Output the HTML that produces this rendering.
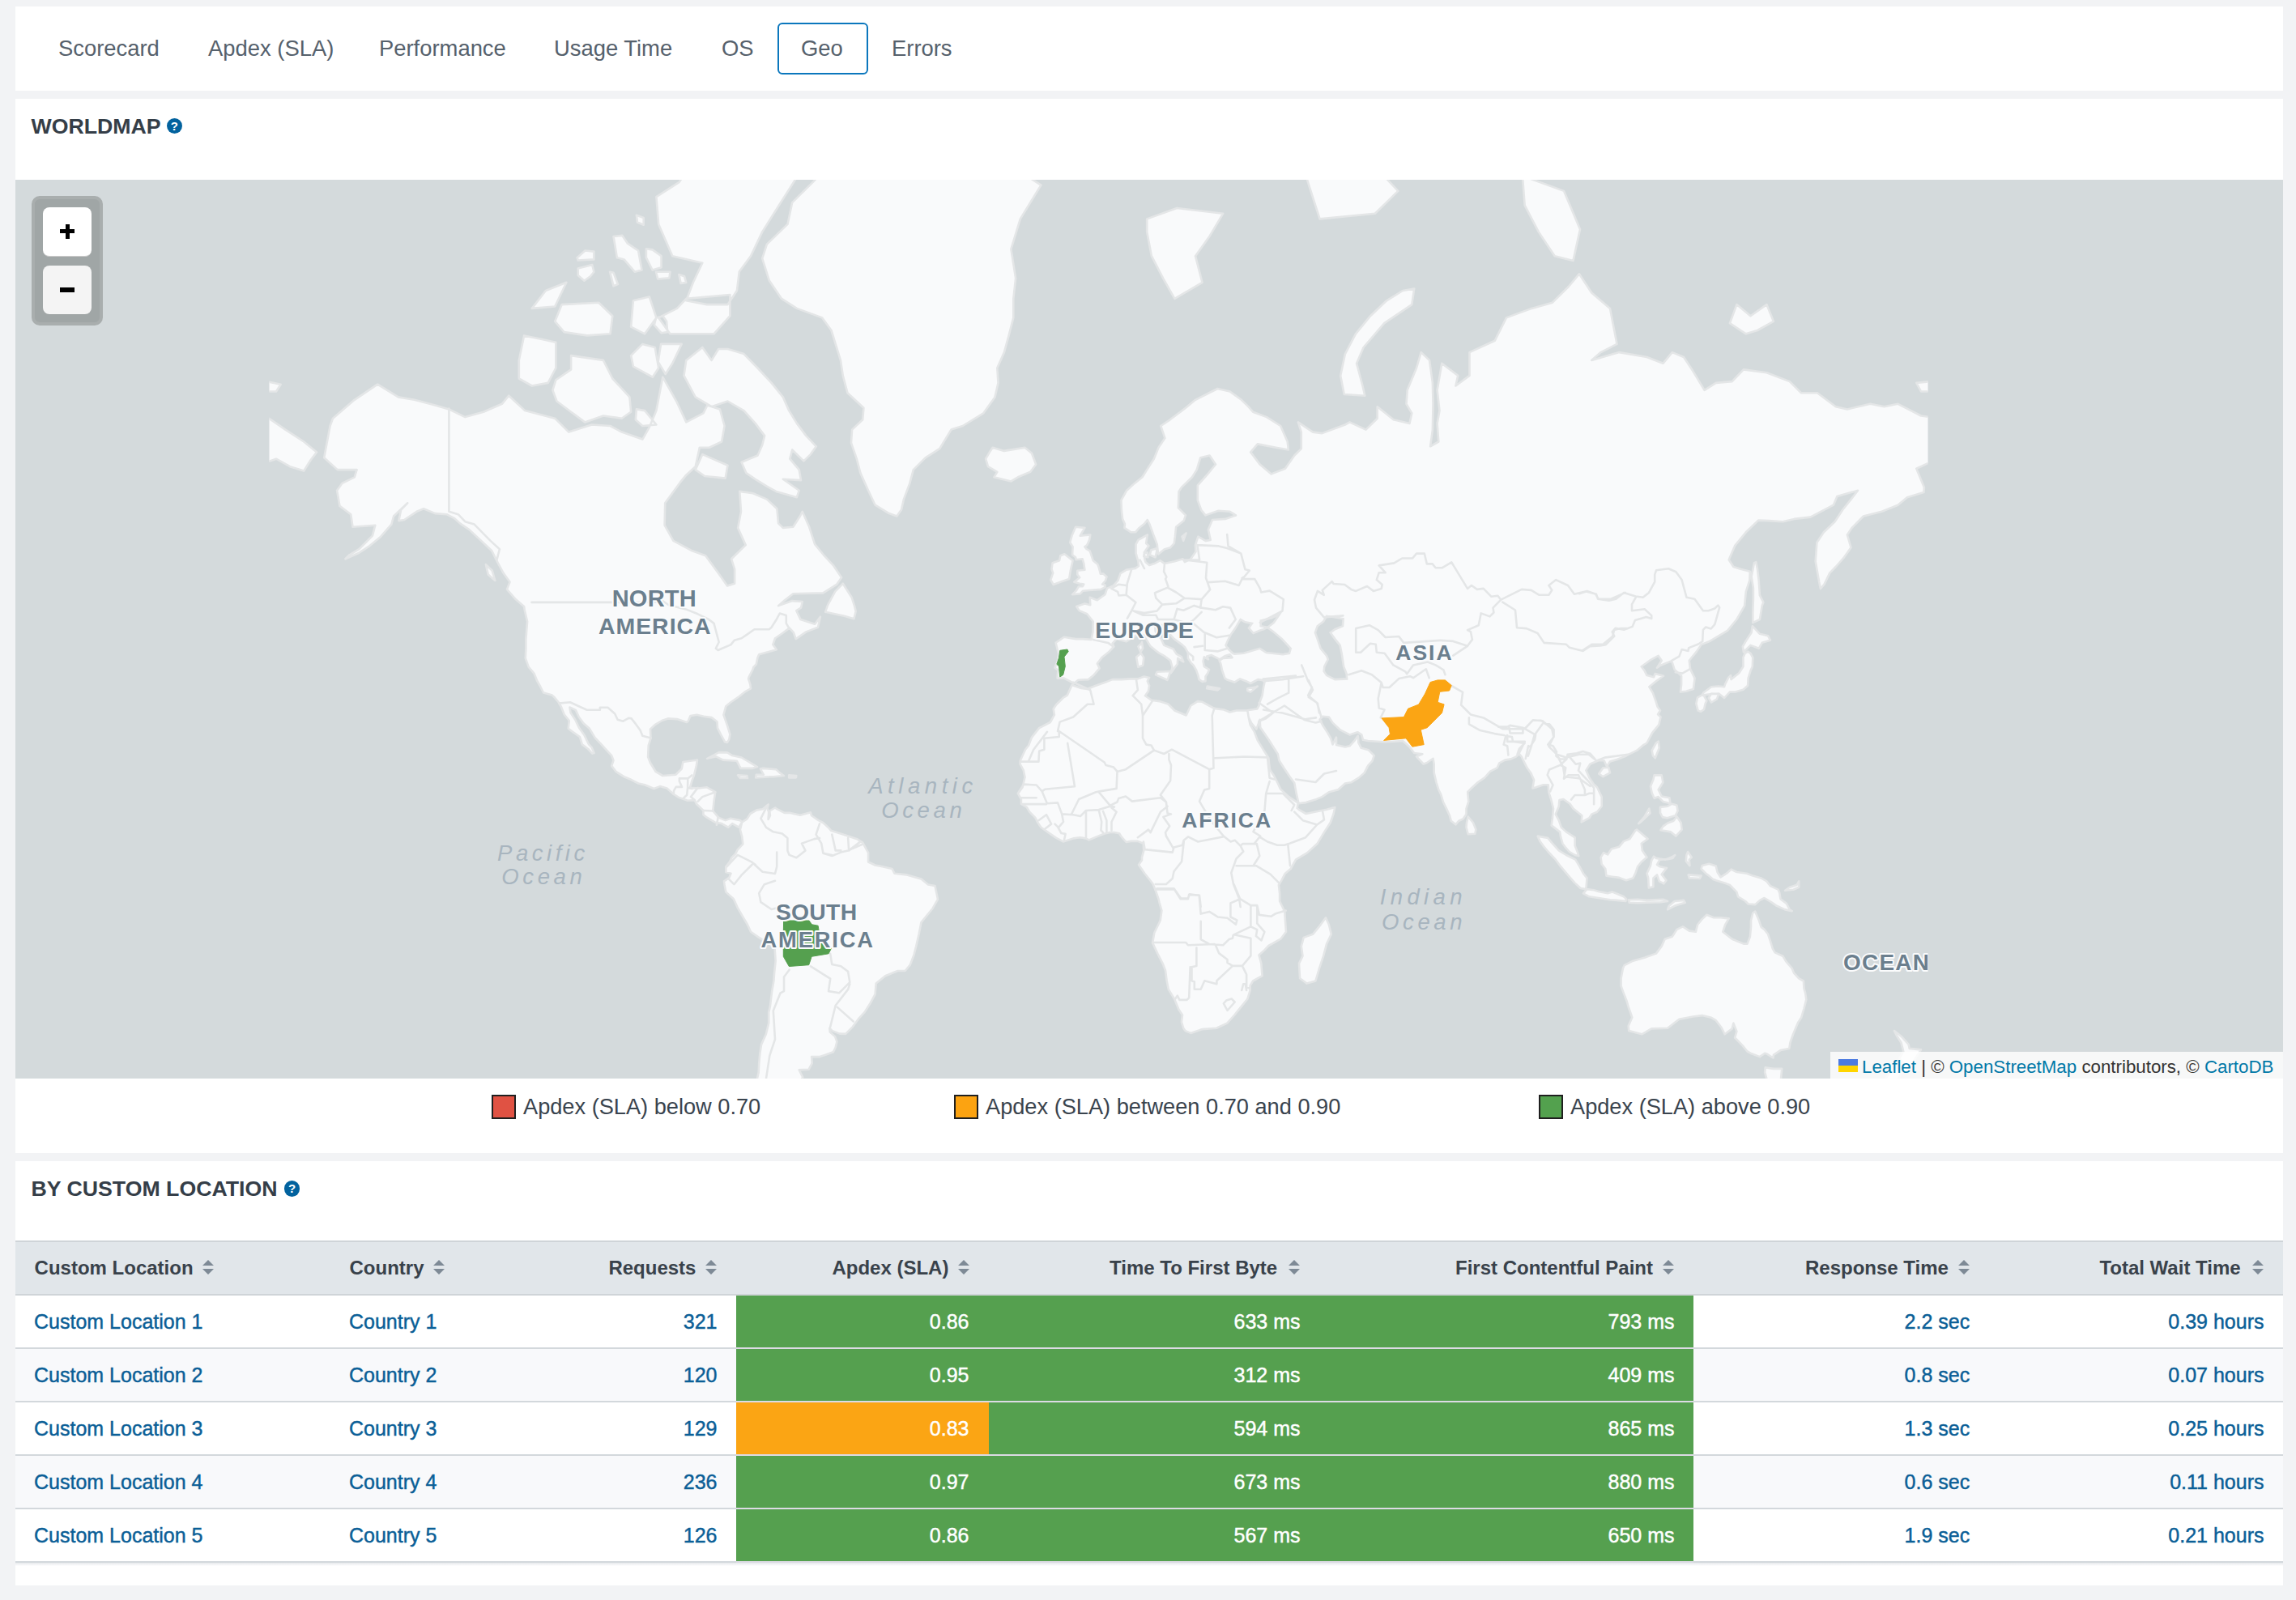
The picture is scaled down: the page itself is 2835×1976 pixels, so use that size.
<!DOCTYPE html>
<html><head><meta charset="utf-8">
<style>
*{box-sizing:border-box}
html,body{margin:0;padding:0}
body{width:2835px;height:1976px;background:#f2f3f5;position:relative;overflow:hidden;font-family:"Liberation Sans",sans-serif}
.abs{position:absolute}
.card{position:absolute;left:19px;width:2800px;background:#fff}
.tab{position:absolute;top:0;font-size:27.4px;color:#56616c;line-height:1;white-space:nowrap}
.title{position:absolute;font-weight:bold;font-size:26.7px;color:#353e48;line-height:1;white-space:nowrap}
.help{position:absolute;width:19.6px;height:19.6px;border-radius:50%;background:#02629e;color:#fff;font-weight:bold;font-size:15px;line-height:19.6px;text-align:center}
.leg{position:absolute;top:1352px;width:30px;height:30px;border:2px solid #1f1f1f}
.legt{position:absolute;font-size:27.2px;color:#3a444e;line-height:1;white-space:nowrap}
.th{position:absolute;font-weight:bold;font-size:24px;color:#39424b;line-height:1;white-space:nowrap}
.td{position:absolute;font-size:25px;color:#0b5f97;line-height:1;white-space:nowrap;-webkit-text-stroke:0.45px #0b5f97}
.tdw{position:absolute;font-size:25px;color:#fff;line-height:1;white-space:nowrap;-webkit-text-stroke:0.45px #fff}
.sort{position:absolute;width:14px;height:18px}
.lbl{position:absolute;font-weight:bold;color:#6b7f8d;font-size:26px;letter-spacing:2px;line-height:1;white-space:nowrap;text-align:center;text-shadow:0 0 3px #fff,0 0 3px #fff}
.ocean{position:absolute;font-style:italic;color:#a4b1ba;font-size:27px;letter-spacing:2.5px;line-height:1;white-space:nowrap;text-align:center}
</style></head><body>
<!-- tabs card -->
<div class="card" style="top:8px;height:104px"></div>
<div class="abs" style="left:960px;top:28px;width:112px;height:63.5px;border:2.5px solid #0b77bd;border-radius:6px"></div>
<div class="tab" style="left:72px;top:46.3px">Scorecard</div>
<div class="tab" style="left:257px;top:46.3px">Apdex (SLA)</div>
<div class="tab" style="left:468px;top:46.3px">Performance</div>
<div class="tab" style="left:684px;top:46.3px">Usage Time</div>
<div class="tab" style="left:891px;top:46.3px">OS</div>
<div class="tab" style="left:989px;top:46.3px">Geo</div>
<div class="tab" style="left:1101px;top:46.3px">Errors</div>

<!-- worldmap card -->
<div class="card" style="top:122px;height:1301.5px"></div>
<div class="title" style="left:38.5px;top:142.5px">WORLDMAP</div>
<div class="help" style="left:205.6px;top:145.6px">?</div>
<div class="abs" style="left:19px;top:222px;width:2800px;height:1110px;overflow:hidden">
<svg width="2800" height="1110" viewBox="19 222 2800 1110" style="position:absolute;left:0;top:0">
<defs><clipPath id="wc"><rect x="332.5" y="0" width="2048" height="2000"/></clipPath></defs>
<rect x="19" y="222" width="2800" height="1110" fill="#d4dadc"/>
<g clip-path="url(#wc)">
<path d="M400.2,565.3L407.6,526.0L411.0,516.7L437.7,493.8L466.2,474.7L491.8,490.4L511.7,493.8L537.3,500.5L554.4,505.4L574.3,515.1L597.0,508.7L619.8,498.8L628.3,488.7L648.2,507.1L685.2,516.7L702.3,533.6L730.7,524.5L753.5,526.0L767.7,533.6L793.3,542.6L801.8,527.6L810.4,507.1L818.3,465.7L836.0,497.2L847.3,521.4L868.4,510.3L873.5,500.5L888.9,505.4L894.6,526.0L891.1,545.5L875.8,552.7L863.8,552.7L858.7,576.2L847.3,586.7L839.9,595.7L821.2,621.3L820.6,648.7L831.4,667.9L854.7,680.3L871.2,686.3L888.9,710.5L898.0,723.4L907.1,720.7L907.1,702.9L903.1,690.3L920.7,673.1L911.1,651.9L915.0,631.8L913.3,606.9L929.8,609.3L946.9,616.6L959.4,628.3L961.1,646.4L966.8,651.9L979.3,650.8L987.9,637.5L990.7,631.8L999.2,650.8L1006.1,672.1L1016.9,685.3L1028.8,698.1L1039.1,713.3L1033.4,721.6L1016.3,732.4L979.3,733.3L967.9,742.1L961.1,748.1L978.2,742.1L990.7,743.0L989.0,750.7L983.3,754.1L988.4,765.0L1006.1,770.7L1012.9,761.7L1010.0,774.8L995.3,780.4L982.7,789.1L979.9,781.2L974.8,775.6L965.1,782.8L957.1,788.3L954.3,796.1L958.8,802.3L950.9,804.6L937.2,808.3L935.5,812.1L933.8,820.3L930.4,823.9L929.5,826.9L924.7,836.2L924.1,838.4L926.4,845.4L927.0,850.3L920.7,853.8L912.8,860.0L902.0,867.5L896.3,872.2L893.4,882.8L898.0,895.9L901.4,906.8L900.3,913.1L898.0,916.9L895.1,916.3L890.6,908.1L886.0,899.1L885.5,891.3L878.6,886.1L869.0,884.8L860.4,882.8L852.5,884.1L849.6,890.7L847.9,892.0L836.0,888.1L824.6,887.4L817.2,890.0L808.7,895.2L803.0,900.4L803.5,911.9L800.7,920.7L800.1,934.9L803.0,942.3L809.8,953.2L818.3,958.0L834.3,956.8L841.7,949.5L843.4,941.0L855.9,939.2L861.0,938.6L859.9,945.3L857.0,957.4L854.7,963.4L851.9,972.9L862.1,973.5L872.9,972.3L883.2,978.2L881.5,989.9L880.3,1001.5L887.2,1009.6L895.7,1013.1L902.0,1010.8L913.9,1013.1L916.2,1015.4L912.2,1021.7L904.2,1017.1L899.1,1021.7L891.1,1017.1L882.6,1015.4L872.9,1009.6L868.4,1006.2L868.4,1001.0L859.9,992.8L857.6,988.1L849.1,988.7L837.7,984.6L831.4,980.5L823.5,973.5L814.9,971.1L807.5,974.0L796.1,969.3L788.2,967.5L779.1,962.8L770.5,959.2L760.9,953.2L755.2,945.9L757.5,939.2L755.2,933.1L751.2,928.8L742.1,918.8L734.7,911.2L727.9,899.8L720.5,893.3L714.8,885.5L710.8,876.9L703.4,873.5L704.6,880.2L710.2,888.7L714.8,898.5L721.6,908.1L726.7,918.8L730.7,923.2L733.6,930.0L731.3,930.6L726.2,925.0L718.8,919.4L715.9,910.0L706.8,903.6L701.7,899.8L702.8,890.0L696.6,882.2L693.2,873.5L689.8,867.5L684.1,860.7L681.8,858.6L671.0,855.5L667.0,847.5L663.0,840.5L659.6,831.9L652.8,823.9L648.8,812.9L649.4,800.8L649.4,789.1L651.1,767.5L647.7,753.3L647.1,749.0L636.9,740.3L626.0,727.9L629.5,718.8L621.5,707.6L614.7,695.2L607.3,680.3L594.2,667.9L579.4,654.1L568.0,646.4L560.6,639.8L551.5,635.2L537.3,634.1L523.1,628.3L514.5,631.8L499.2,642.0L492.4,643.1L495.2,629.5L503.2,621.3L486.1,637.5L483.3,647.6L470.2,662.7L456.5,674.1L442.3,683.3L426.4,690.3L431.5,685.3L443.4,678.2L459.9,661.6L463.3,648.7L435.5,650.8L433.2,635.2L419.5,624.9L416.1,605.7L422.4,596.9L437.7,589.3L440.6,580.1L416.7,580.1L400.2,565.3ZM916.2,1015.4L922.4,1011.4L926.4,1005.0L934.4,1000.4L941.8,999.2L948.6,993.4L947.5,998.1L949.2,1002.7L948.6,1011.9L950.9,1007.3L950.3,1001.5L957.1,997.5L959.4,999.2L968.5,1003.9L975.9,1003.9L987.9,1006.7L1000.9,1003.3L1002.1,1007.3L1010.6,1013.1L1016.3,1016.0L1023.7,1022.9L1026.0,1025.7L1042.5,1030.9L1049.3,1033.2L1059.0,1036.6L1065.2,1040.6L1072.1,1053.1L1072.1,1064.5L1080.6,1068.5L1089.7,1070.2L1101.6,1073.0L1104.5,1078.7L1119.8,1080.4L1137.5,1085.6L1146.0,1092.4L1154.5,1094.1L1158.0,1110.7L1151.7,1121.7L1137.5,1139.1L1134.6,1153.8L1131.2,1168.6L1128.4,1179.5L1123.8,1191.6L1117.6,1199.0L1108.5,1199.0L1093.1,1205.2L1081.7,1214.6L1080.6,1228.0L1073.8,1240.3L1067.5,1250.1L1060.1,1258.2L1052.7,1268.3L1044.2,1276.9L1036.8,1276.6L1027.7,1273.1L1024.3,1269.7L1024.8,1274.5L1031.1,1280.1L1033.4,1286.4L1031.7,1293.5L1028.8,1299.3L1012.3,1305.1L1002.1,1305.1L1002.7,1313.2L998.7,1320.7L986.7,1321.4L991.3,1330.5L989.6,1332.9L985.0,1339.9L935.5,1343.8L935.0,1332.1L936.7,1324.4L937.2,1313.2L938.4,1300.7L940.1,1289.9L945.8,1277.3L949.2,1263.6L949.2,1250.1L950.9,1242.9L953.2,1224.1L955.4,1211.5L956.0,1202.7L957.7,1186.7L956.6,1171.6L950.3,1165.6L937.2,1157.9L927.0,1150.8L923.0,1142.0L917.9,1133.3L911.1,1121.7L905.9,1110.2L896.3,1101.6L894.6,1093.0L894.0,1088.4L900.3,1083.9L902.5,1078.7L896.3,1077.0L896.3,1070.2L900.8,1064.5L903.7,1058.8L908.2,1054.3L910.5,1049.7L917.3,1042.3L916.2,1033.2L913.9,1024.6L916.2,1015.4ZM941.2,319.1L949.7,346.2L965.1,368.9L983.9,380.9L1015.2,392.4L1026.5,408.0L1037.9,444.9L1040.8,463.9L1046.5,485.3L1066.4,503.8L1065.2,518.3L1052.1,530.6L1051.0,546.9L1057.8,566.7L1062.4,584.1L1072.1,605.7L1080.6,623.7L1097.7,634.1L1107.3,637.5L1113.0,629.5L1115.9,616.6L1123.3,596.9L1127.8,580.1L1142.6,565.3L1160.2,554.1L1174.5,530.6L1188.7,526.0L1214.3,510.3L1228.5,490.4L1232.5,472.9L1231.3,454.5L1239.9,435.1L1245.6,414.4L1251.3,392.4L1251.3,368.9L1254.1,343.6L1248.4,307.6L1259.8,270.4L1285.4,228.6L1237.0,197.4L1168.8,124.5L1100.5,153.7L1037.9,189.1L1003.8,224.8L978.2,250.1L972.5,276.9L946.9,301.6L941.2,319.1ZM935.5,149.0L1003.8,162.9L992.4,205.5L964.0,250.1L941.2,286.4L927.0,316.2L912.8,335.6L909.9,359.0L898.5,376.1L872.9,376.1L847.3,371.3L855.9,348.8L867.3,324.7L830.3,316.2L813.2,276.9L810.4,243.1L838.8,224.8L861.6,189.1L901.4,158.4ZM901.4,364.0L847.3,368.9L836.0,380.9L813.2,392.4L827.4,412.3L855.9,412.3L881.5,412.3L901.4,390.2ZM693.7,376.1L739.3,373.7L756.3,390.2L753.5,412.3L725.0,414.4L696.6,410.1L685.2,396.9ZM699.4,348.8L673.8,359.0L656.8,380.9L685.2,378.5ZM801.8,366.5L781.9,371.3L779.1,403.6L796.1,412.3L810.4,392.4ZM647.1,414.4L668.1,418.7L686.3,422.8L686.3,454.5L676.7,472.9L656.8,476.5L640.8,467.5L640.8,444.9ZM705.1,439.1L744.9,444.9L756.3,467.5L777.4,490.4L779.1,508.7L767.7,516.7L744.9,513.5L722.2,521.4L705.1,508.7L687.5,495.5L682.4,481.8L686.3,469.3L705.1,456.4ZM793.3,424.9L808.7,429.0L813.2,454.5L805.8,465.7L781.9,452.6L779.1,439.1ZM816.1,424.9L841.7,424.9L830.3,448.8L821.7,462.0L812.6,446.9ZM796.1,507.1L810.4,524.5L793.3,526.0L784.8,518.3L785.9,505.4ZM898.5,431.0L918.5,437.1L935.5,454.5L952.6,472.9L966.8,490.4L974.2,507.1L983.9,522.9L995.3,538.1L1007.8,551.3L1000.9,561.1L992.4,569.4L978.2,555.5L975.3,566.7L986.7,580.1L989.0,593.1L966.8,591.8L986.7,605.7L983.9,614.2L958.3,606.9L946.9,600.7L932.7,591.8L921.3,584.1L915.6,570.8L935.5,562.5L941.2,549.8L944.1,538.1L932.7,522.9L918.5,507.1L898.5,495.5L878.6,502.2L858.7,490.4L844.5,463.9L847.3,444.9L867.3,429.0L878.6,444.9L887.2,431.0ZM867.3,561.1L898.5,574.8L895.7,590.6L870.1,588.0L858.7,580.1ZM1040.8,720.7L1051.6,737.7L1055.0,748.1L1056.7,755.0L1054.4,764.2L1042.5,760.8L1019.1,755.8L1022.0,747.3L1031.1,730.6ZM887.7,929.1L873.2,936.8L884.3,934.3L892.9,938.6L909.9,939.8L914.5,948.9L928.7,948.9L935.0,947.1L925.9,941.7L915.6,935.5L904.2,933.1L898.0,929.4ZM942.3,948.9L958.3,950.2L962.8,954.4L967.9,958.0L955.4,959.2L950.9,959.2L933.2,960.4L933.8,956.8L942.9,956.8L938.9,949.5ZM911.1,957.4L922.4,958.0L923.0,961.0L913.9,961.0ZM974.2,957.4L983.3,958.0L982.7,960.4L974.2,960.4ZM599.9,697.1L607.8,704.8L611.3,717.0L602.7,709.5ZM1324.1,734.2L1333.7,733.3L1337.2,729.7L1348.0,728.8L1359.3,727.9L1364.5,725.2L1364.5,722.5L1361.1,721.6L1365.0,717.0L1366.5,712.3L1362.2,708.6L1358.8,708.6L1357.1,701.9L1355.4,697.1L1349.7,692.2L1345.7,680.3L1341.7,678.2L1339.4,675.2L1342.3,673.1L1345.1,666.9L1346.3,660.5L1333.7,661.6L1339.4,651.9L1328.1,650.8L1323.5,661.6L1321.2,670.0L1324.6,675.2L1324.1,685.3L1328.1,688.3L1328.6,691.2L1336.6,690.3L1338.3,696.1L1339.4,703.8L1330.3,704.8L1330.3,709.5L1333.2,713.3L1329.8,716.1L1326.3,718.8L1333.2,720.7L1338.3,721.6L1336.6,724.3L1332.0,724.3L1328.6,729.7ZM1314.4,684.3L1324.6,692.2L1321.8,704.8L1320.1,715.1L1309.3,718.8L1300.7,722.0L1297.3,716.1L1300.2,707.6L1298.5,702.9L1299.6,695.2L1308.1,692.2L1309.3,686.3ZM1225.7,552.7L1239.9,556.9L1265.5,552.7L1274.0,559.8L1279.1,573.5L1272.3,582.8L1256.9,589.3L1248.4,594.4L1227.4,589.3L1231.3,582.8L1220.0,576.2L1217.1,566.7L1222.8,556.9ZM1416.2,270.4L1453.2,257.0L1510.1,263.8L1493.0,292.6L1476.0,316.2L1484.5,348.8L1450.4,368.9L1436.1,343.6L1421.9,316.2L1416.2,286.4ZM1659.7,487.0L1655.2,463.9L1660.9,437.1L1673.9,412.3L1692.1,390.2L1712.1,371.3L1732.0,359.0L1746.2,356.5L1743.3,376.1L1709.2,399.2L1683.6,429.0L1675.1,448.8L1682.5,476.5L1685.3,488.7ZM1612.5,217.2L1697.8,205.5L1726.3,235.9L1697.8,263.8L1629.6,270.4ZM1879.9,217.2L1931.1,235.9L1951.0,283.3L1942.5,321.9L1919.7,316.2L1899.8,286.4L1882.7,253.6ZM2144.4,376.1L2135.9,399.2L2155.8,412.3L2170.0,408.0L2189.9,396.9L2181.4,376.1L2161.5,390.2ZM2366.3,472.9L2383.3,471.1L2383.3,483.5L2372.0,483.5ZM329.7,471.1L346.7,474.7L341.0,483.5L329.7,483.5ZM329.7,515.1L352.4,530.6L375.2,545.5L391.1,558.4L383.7,568.0L375.2,581.5L358.1,576.2L341.0,566.7L329.7,570.8ZM1325.8,844.0L1320.7,841.2L1313.8,837.6L1305.6,837.6L1306.4,827.6L1302.5,824.7L1305.9,815.8L1307.0,807.6L1303.6,793.8L1309.3,789.9L1313.8,786.8L1328.1,789.1L1336.6,789.1L1347.4,789.9L1349.4,780.4L1349.7,767.5L1342.3,758.3L1332.6,754.1L1329.2,749.0L1339.4,745.6L1346.3,747.3L1345.7,737.7L1354.8,741.2L1357.1,739.5L1364.5,734.2L1367.0,726.6L1374.7,723.4L1380.4,717.0L1383.5,708.1L1390.6,703.8L1402.0,701.9L1406.0,699.0L1405.4,693.2L1402.6,683.3L1402.6,672.1L1405.4,666.9L1416.8,660.5L1415.1,671.0L1418.5,674.1L1412.8,682.3L1413.4,690.3L1414.5,694.2L1419.1,698.1L1425.3,696.1L1432.7,692.2L1437.9,696.1L1450.4,693.2L1460.6,690.3L1462.9,694.2L1470.3,690.3L1476.5,681.3L1476.0,673.1L1479.4,662.7L1488.5,667.9L1494.7,666.9L1491.9,654.1L1497.0,642.0L1512.9,640.9L1526.0,636.4L1518.6,631.8L1504.4,630.7L1488.5,636.4L1483.4,630.1L1478.8,617.8L1478.8,599.4L1490.2,586.7L1501.0,573.5L1493.6,562.5L1482.2,565.3L1477.7,580.1L1472.0,589.3L1458.9,601.9L1455.5,606.9L1454.9,627.2L1464.0,636.4L1461.7,643.1L1452.1,650.8L1450.9,662.7L1449.8,671.0L1445.2,676.2L1437.9,678.2L1430.5,684.3L1429.9,682.3L1428.7,672.1L1424.2,660.5L1419.6,647.6L1416.8,642.0L1413.4,646.4L1406.6,651.9L1402.0,657.3L1396.6,657.3L1388.4,651.9L1388.9,647.0L1386.1,640.9L1384.9,630.7L1384.4,617.8L1391.2,605.7L1400.9,596.9L1410.5,589.3L1416.2,580.1L1424.8,566.7L1430.5,552.7L1438.4,541.1L1433.3,526.0L1444.7,518.3L1464.0,503.8L1476.0,493.8L1503.3,480.0L1518.6,483.5L1532.9,493.8L1541.4,502.2L1547.1,508.7L1564.1,515.1L1581.2,526.0L1589.7,545.5L1590.9,555.5L1575.5,552.7L1552.8,548.4L1544.2,558.4L1555.6,573.5L1569.8,585.4L1586.9,578.8L1598.3,562.5L1606.8,554.1L1606.8,533.6L1602.8,521.4L1621.0,533.6L1632.4,535.1L1660.9,524.5L1666.5,521.4L1686.5,530.6L1700.7,516.7L1700.7,502.2L1720.6,518.3L1740.5,522.9L1743.3,510.3L1736.5,498.8L1737.7,481.8L1749.0,454.5L1754.7,435.1L1765.0,444.9L1768.9,472.9L1769.5,498.8L1768.9,530.6L1766.1,551.3L1776.3,545.5L1774.6,522.9L1777.5,507.1L1774.6,481.8L1780.3,448.8L1800.2,463.9L1797.4,476.5L1814.5,463.9L1814.5,435.1L1845.7,420.8L1860.0,392.4L1891.3,380.9L1916.9,373.7L1936.8,354.0L1949.9,338.3L1965.2,361.5L1988.0,380.9L1996.5,424.9L1976.6,435.1L1965.2,444.9L1999.3,435.1L2033.5,441.0L2053.4,448.8L2064.8,435.1L2079.0,441.0L2090.4,458.3L2104.6,481.8L2118.8,472.9L2138.7,471.1L2152.9,456.4L2181.4,460.2L2209.8,471.1L2224.1,485.3L2244.0,485.3L2266.7,502.2L2280.9,505.4L2309.4,498.8L2326.5,502.2L2343.5,498.8L2372.0,513.5L2383.3,515.1L2383.3,570.8L2366.3,578.8L2375.9,601.9L2375.4,608.1L2354.9,614.2L2343.5,623.7L2323.6,631.8L2300.9,637.5L2286.6,651.9L2280.9,660.5L2285.5,676.2L2277.0,688.3L2266.7,700.0L2259.3,707.6L2252.5,721.6L2247.9,727.0L2246.2,718.8L2241.7,693.2L2243.4,670.0L2251.9,657.3L2265.6,644.2L2275.3,629.5L2286.6,615.4L2294.0,605.7L2268.4,613.0L2263.9,623.7L2235.4,638.6L2215.5,640.9L2201.3,644.2L2184.2,643.1L2171.1,642.6L2155.8,657.3L2142.4,673.6L2134.7,691.2L2140.4,700.0L2150.1,702.9L2160.9,705.7L2160.3,717.0L2155.8,730.6L2154.1,748.1L2144.4,765.0L2133.0,778.8L2110.3,792.3L2100.6,796.1L2094.9,804.6L2085.8,815.8L2087.0,826.1L2092.6,837.6L2090.9,851.0L2081.8,853.8L2075.0,854.5L2076.1,845.4L2076.1,834.8L2067.6,826.9L2064.8,818.1L2063.1,816.6L2050.5,821.7L2046.0,824.7L2051.7,815.8L2047.7,809.9L2039.2,814.3L2026.7,823.2L2030.6,828.3L2033.5,834.1L2042.0,836.2L2043.7,831.9L2054.0,834.8L2044.9,841.2L2036.3,848.2L2040.9,855.9L2044.3,865.4L2046.6,872.8L2050.0,877.5L2047.1,882.2L2050.5,885.5L2048.3,895.2L2040.3,904.9L2036.9,911.2L2033.5,917.5L2028.4,920.7L2021.0,926.9L2010.7,931.8L2006.2,934.3L1996.5,938.0L1988.0,940.4L1984.0,946.5L1980.6,939.2L1973.7,939.2L1963.5,943.5L1958.4,951.4L1962.4,960.4L1968.1,968.7L1972.0,972.3L1977.7,984.1L1977.7,995.7L1972.0,1002.7L1965.2,1005.6L1962.4,1010.2L1952.7,1015.4L1953.3,1007.3L1949.9,1004.4L1942.5,998.6L1938.5,992.8L1930.5,987.0L1925.4,988.1L1924.8,995.7L1920.8,1005.6L1924.8,1013.1L1927.7,1021.7L1933.9,1027.4L1944.7,1034.3L1944.7,1044.6L1948.1,1053.1L1949.3,1057.1L1944.7,1056.0L1937.9,1052.0L1932.8,1046.3L1929.4,1041.7L1927.1,1033.7L1926.0,1027.4L1915.7,1019.4L1916.9,1010.2L1918.0,998.6L1915.1,987.0L1912.3,978.2L1911.7,969.3L1905.5,969.3L1896.9,972.3L1892.4,973.5L1894.1,963.4L1890.1,954.4L1885.6,948.3L1881.0,939.2L1878.7,934.3L1875.9,931.2L1871.3,934.9L1865.7,937.4L1858.3,938.6L1851.4,942.3L1848.6,948.3L1840.1,952.6L1833.2,960.4L1824.7,966.3L1816.7,973.5L1812.2,978.2L1813.3,989.9L1810.5,998.6L1810.5,1005.6L1806.5,1011.4L1801.4,1013.7L1797.4,1018.3L1791.7,1013.7L1790.0,1007.3L1786.0,998.6L1782.0,990.5L1779.2,981.1L1776.3,975.2L1773.5,966.3L1770.7,954.4L1770.7,943.5L1769.5,936.8L1761.5,942.3L1757.6,943.5L1749.0,934.3L1756.4,931.2L1746.2,930.0L1740.5,922.5L1736.5,918.8L1732.0,915.0L1720.6,915.7L1709.2,916.3L1701.2,915.7L1689.3,915.0L1683.0,913.8L1681.3,907.4L1676.2,904.2L1666.5,907.4L1655.2,901.7L1645.5,892.6L1640.9,885.5L1633.0,884.8L1629.6,888.7L1633.0,895.2L1639.2,904.9L1643.2,911.9L1645.5,919.4L1650.0,910.6L1650.0,920.0L1660.9,922.5L1666.5,921.3L1671.7,915.7L1676.8,908.7L1677.4,917.5L1680.8,923.8L1689.9,926.3L1696.7,933.1L1694.4,939.8L1689.3,945.3L1684.7,954.4L1677.9,960.4L1668.3,966.3L1660.9,967.5L1652.3,975.2L1640.9,978.2L1632.4,984.1L1623.9,987.6L1612.5,991.1L1603.4,992.2L1602.3,987.0L1600.6,979.4L1598.3,966.9L1592.6,959.2L1585.2,948.3L1579.5,939.2L1577.8,931.2L1572.7,923.2L1565.9,912.5L1558.5,901.7L1556.2,898.5L1555.6,888.7L1552.2,898.5L1551.3,900.4L1545.4,893.3L1541.7,885.8L1540.3,877.2L1552.2,875.5L1554.5,871.5L1555.6,866.8L1558.5,859.3L1560.2,848.2L1561.9,840.5L1553.3,839.1L1544.2,844.0L1538.5,841.2L1531.1,838.4L1524.3,842.6L1515.8,839.8L1512.4,837.6L1509.0,827.6L1507.3,819.5L1505.5,815.8L1510.1,812.9L1521.5,812.1L1518.6,808.3L1512.9,809.9L1506.1,814.3L1500.4,811.4L1495.9,809.1L1490.2,810.6L1491.9,814.3L1486.8,811.4L1485.6,816.6L1486.8,823.2L1493.0,826.9L1491.3,831.2L1488.5,835.5L1488.5,841.2L1484.5,841.9L1480.5,839.1L1479.4,834.1L1477.1,827.6L1473.7,821.7L1470.8,818.8L1466.9,812.9L1466.9,806.1L1462.9,799.2L1459.5,796.1L1449.8,789.1L1443.5,782.0L1438.4,774.8L1435.6,778.8L1434.7,772.0L1426.5,774.0L1426.5,778.8L1428.2,784.4L1433.3,788.3L1437.3,796.9L1448.7,801.5L1452.6,807.6L1458.9,811.4L1461.2,817.3L1454.3,812.9L1453.8,820.3L1450.9,823.9L1445.8,831.2L1447.5,823.9L1445.2,815.8L1437.3,809.9L1430.5,806.1L1426.5,803.0L1420.2,797.7L1415.1,789.1L1412.3,784.4L1407.1,782.0L1398.0,787.6L1390.6,792.3L1384.9,790.7L1378.7,789.1L1373.6,794.6L1375.3,798.5L1369.0,805.3L1360.5,812.1L1354.8,819.5L1357.6,825.4L1350.8,833.4L1344.0,839.1L1331.5,839.8ZM1540.3,877.2L1526.6,877.5L1518.6,879.5L1511.2,876.5L1499.3,874.9L1493.0,871.5L1484.5,866.8L1478.8,866.1L1470.3,871.5L1464.6,883.5L1450.4,877.5L1442.4,869.5L1431.6,866.1L1421.9,864.8L1414.0,859.3L1417.9,853.8L1419.1,846.8L1416.8,841.2L1419.1,836.9L1412.8,835.5L1404.9,838.4L1396.3,838.4L1384.9,839.1L1373.6,839.1L1365.0,842.6L1353.1,846.8L1342.3,851.0L1333.7,849.6L1323.5,846.1L1317.8,858.6L1313.3,861.3L1304.2,870.2L1300.7,875.5L1301.9,882.8L1296.8,892.0L1283.1,899.1L1274.0,910.6L1270.0,920.7L1266.0,925.7L1259.8,939.2L1259.5,943.5L1263.8,951.4L1265.5,959.8L1262.6,972.3L1256.9,979.9L1260.9,987.0L1260.9,992.8L1267.8,996.9L1271.2,1002.7L1278.6,1010.2L1281.4,1016.0L1285.4,1021.7L1295.1,1028.6L1304.2,1034.9L1312.7,1039.4L1325.2,1035.4L1333.7,1034.3L1340.6,1035.4L1344.6,1037.4L1355.4,1032.9L1363.3,1029.7L1370.7,1028.0L1375.8,1028.0L1382.1,1029.2L1384.9,1033.7L1390.6,1040.0L1396.3,1038.9L1404.9,1038.9L1411.7,1041.7L1412.3,1050.3L1410.0,1058.8L1410.0,1062.2L1406.0,1067.9L1413.4,1078.7L1420.2,1087.3L1423.6,1091.8L1426.5,1098.7L1430.5,1110.2L1431.6,1114.8L1434.4,1124.6L1432.7,1136.8L1425.3,1152.0L1423.1,1164.4L1429.3,1177.6L1435.6,1189.8L1439.0,1198.4L1440.7,1211.5L1442.7,1221.6L1450.4,1234.4L1455.5,1246.8L1460.0,1253.5L1458.9,1262.2L1461.2,1269.7L1463.5,1273.1L1470.3,1275.9L1484.5,1271.1L1502.1,1269.7L1515.2,1263.6L1524.3,1253.5L1532.9,1242.9L1540.3,1233.8L1543.7,1222.8L1543.7,1217.1L1547.1,1211.5L1558.5,1205.2L1557.3,1189.8L1554.5,1179.5L1561.3,1173.4L1566.4,1168.0L1581.2,1159.7L1588.0,1150.8L1586.9,1136.2L1586.3,1125.7L1580.1,1113.0L1580.1,1103.3L1578.9,1093.0L1582.3,1087.3L1586.9,1078.7L1593.7,1073.0L1600.0,1061.7L1614.2,1053.1L1626.7,1041.7L1635.3,1027.4L1642.7,1016.0L1646.6,1005.0L1648.3,996.9L1638.1,999.8L1612.5,1005.0L1604.5,1000.4L1601.7,998.1L1602.8,991.7L1591.5,984.1L1581.2,974.6L1577.2,966.3L1572.7,957.4L1568.1,950.8L1567.0,942.3L1566.4,936.2L1559.0,924.4L1552.8,914.4L1548.8,903.6L1543.7,895.2L1541.7,885.8ZM1812.7,1008.5L1819.0,1016.0L1822.4,1024.6L1821.3,1029.7L1812.7,1030.3L1810.5,1021.7L1811.0,1016.0ZM1637.0,1133.3L1640.9,1142.0L1643.8,1153.8L1638.1,1165.6L1634.1,1180.7L1629.0,1195.9L1624.4,1211.5L1613.6,1214.6L1605.1,1208.3L1604.5,1199.0L1604.0,1189.8L1608.5,1180.7L1606.8,1168.6L1609.7,1157.9L1621.0,1153.8L1628.4,1144.9L1631.3,1140.9ZM2168.3,694.2L2170.0,702.9L2171.7,717.0L2172.9,735.1L2177.4,743.8L2175.7,748.1L2172.9,765.0L2164.3,769.1L2164.3,756.6L2164.9,739.5L2164.9,726.1L2162.6,712.3L2166.0,695.2ZM2163.8,773.2L2172.9,782.8L2183.1,785.2L2185.9,790.7L2175.7,793.8L2171.7,800.8L2161.5,796.9L2152.9,805.3L2151.8,798.5L2155.8,791.5L2162.6,781.2ZM2158.1,804.6L2161.5,806.8L2164.3,812.1L2163.8,823.2L2161.5,828.3L2158.6,837.6L2158.1,846.8L2152.4,851.7L2142.7,854.5L2135.9,854.5L2129.1,862.0L2122.2,856.5L2112.0,857.2L2101.7,858.6L2103.5,855.2L2113.1,848.2L2121.7,847.5L2129.1,848.2L2130.2,844.7L2134.2,836.9L2137.0,834.1L2137.6,839.1L2147.3,831.2L2152.4,823.2L2152.4,812.1L2154.7,806.8ZM2101.2,858.6L2096.1,861.3L2094.3,868.8L2096.6,877.5L2100.0,878.9L2104.0,876.2L2105.7,868.8L2107.4,865.4L2104.0,859.3ZM2113.1,856.5L2122.2,857.2L2119.9,863.4L2113.1,867.5L2109.7,862.0ZM2047.7,915.7L2048.8,923.8L2043.7,936.2L2040.9,933.1L2039.7,926.9L2044.9,917.5ZM1986.3,947.7L1988.0,954.4L1979.4,959.2L1974.3,955.6L1979.4,948.3ZM2042.6,957.4L2051.7,957.4L2053.4,966.3L2047.7,975.2L2051.7,983.5L2061.4,985.2L2062.5,992.2L2053.4,989.9L2047.7,984.1L2042.6,985.8L2039.7,979.4L2038.0,971.1L2041.4,962.8ZM2064.2,992.8L2070.5,994.6L2071.6,1001.5L2068.7,1007.3L2058.5,1010.2L2052.8,1009.1L2050.0,1003.9L2050.0,996.9L2059.1,995.7ZM2070.5,1008.5L2075.6,1016.0L2076.7,1024.6L2069.3,1032.6L2063.1,1027.4L2050.5,1025.2L2053.4,1020.6L2059.1,1016.5L2066.5,1013.7ZM2036.3,998.6L2037.5,1004.4L2024.9,1016.0L2023.2,1017.1L2030.6,1008.5ZM2021.0,1024.6L2026.7,1029.2L2034.6,1036.0L2026.7,1041.7L2027.8,1050.3L2033.5,1058.8L2026.7,1064.5L2022.1,1070.2L2019.3,1078.7L2016.4,1084.4L2007.9,1087.3L1999.3,1083.9L1990.8,1082.7L1983.4,1081.6L1982.3,1073.0L1977.7,1067.3L1976.6,1058.8L1980.0,1053.1L1985.1,1055.4L1989.7,1048.6L1999.3,1045.7L2005.0,1038.9L2012.4,1036.0L2015.8,1030.9L2019.3,1025.7ZM1898.7,1032.6L1911.2,1034.9L1916.9,1041.7L1924.8,1050.3L1933.9,1056.0L1945.3,1061.7L1950.4,1070.2L1955.0,1078.7L1959.5,1084.4L1958.4,1098.1L1951.6,1097.0L1944.2,1090.1L1936.8,1081.6L1927.1,1070.2L1920.8,1061.7L1911.7,1052.0L1905.5,1044.6L1901.5,1038.9ZM1959.5,1098.1L1968.1,1099.3L1973.7,1101.0L1985.1,1103.3L1990.8,1101.6L1996.5,1103.8L2005.0,1107.3L2007.9,1110.2L2007.3,1113.0L1996.5,1111.9L1988.0,1111.3L1973.7,1109.0L1962.4,1107.3L1955.0,1103.3ZM2010.7,1111.3L2022.1,1110.7L2033.5,1111.9L2053.4,1110.7L2059.1,1113.0L2050.5,1114.2L2033.5,1114.8L2022.1,1115.3L2011.9,1114.8ZM2079.0,1111.9L2067.6,1113.0L2060.8,1118.8L2059.1,1123.4L2067.6,1118.8L2080.7,1114.8ZM2068.2,1056.0L2063.6,1058.8L2056.2,1061.7L2044.9,1059.9L2042.0,1057.7L2039.2,1062.8L2038.0,1069.1L2033.5,1078.7L2035.2,1084.4L2035.8,1096.4L2041.4,1095.3L2041.4,1084.4L2046.0,1080.4L2048.8,1088.4L2054.5,1091.3L2057.4,1087.3L2051.7,1079.9L2057.9,1071.9L2049.4,1070.2L2046.0,1067.9L2049.4,1061.7L2059.1,1061.1L2065.3,1059.9ZM2084.1,1052.0L2088.7,1058.8L2085.8,1061.7L2086.4,1069.1L2081.8,1063.4L2082.4,1056.0ZM2084.7,1080.4L2100.6,1081.6L2098.9,1085.0L2085.8,1084.4ZM2101.7,1069.1L2110.3,1066.8L2118.8,1069.6L2120.5,1077.0L2124.5,1083.3L2131.9,1078.7L2137.6,1073.6L2144.4,1077.0L2156.9,1078.7L2164.3,1081.6L2174.6,1084.4L2181.4,1088.4L2185.9,1094.1L2195.6,1098.7L2197.3,1102.7L2198.5,1110.2L2205.9,1115.9L2209.8,1123.4L2212.7,1125.1L2204.1,1123.4L2193.9,1118.8L2187.1,1114.2L2178.5,1109.0L2172.9,1111.9L2167.2,1117.1L2158.6,1116.5L2155.2,1113.0L2146.1,1107.3L2144.4,1101.6L2135.9,1093.0L2130.2,1090.7L2118.8,1087.3L2115.4,1086.1L2110.3,1081.6L2106.3,1078.7L2100.6,1073.0ZM2221.2,1088.4L2218.4,1093.0L2209.8,1095.8L2204.1,1099.8L2214.4,1098.7L2221.2,1095.8ZM2167.2,1125.7L2171.7,1136.2L2174.6,1144.9L2178.5,1147.9L2183.1,1153.8L2185.9,1162.1L2188.8,1171.6L2191.6,1176.4L2201.3,1180.7L2205.3,1187.3L2212.7,1195.9L2215.0,1201.5L2221.2,1208.3L2226.9,1211.5L2227.5,1220.9L2229.2,1226.7L2230.3,1234.4L2227.5,1245.5L2224.1,1256.8L2220.1,1262.9L2217.2,1269.7L2213.8,1278.0L2210.4,1287.8L2209.3,1294.9L2198.5,1297.1L2189.9,1302.9L2189.4,1306.5L2181.4,1301.4L2179.1,1300.7L2172.9,1305.1L2161.5,1300.7L2157.5,1298.5L2151.8,1291.4L2142.1,1281.5L2144.4,1273.8L2140.4,1263.6L2138.7,1270.4L2129.6,1277.3L2125.6,1269.0L2118.8,1260.2L2113.1,1256.8L2101.7,1254.1L2090.4,1255.5L2073.3,1258.8L2059.1,1269.7L2039.2,1270.4L2027.2,1277.3L2011.3,1273.1L2010.7,1267.0L2015.3,1256.5L2010.7,1243.5L2008.4,1235.7L2003.9,1224.1L2001.6,1217.8L2001.6,1208.3L2003.9,1195.9L2005.6,1192.2L2016.4,1186.7L2031.2,1182.5L2044.9,1177.6L2051.7,1168.6L2055.7,1159.7L2064.8,1156.7L2070.5,1147.9L2077.9,1144.4L2085.8,1149.6L2093.8,1150.8L2096.1,1142.0L2101.2,1135.6L2107.4,1129.8L2116.0,1133.3L2124.5,1133.3L2134.7,1134.4L2130.2,1142.0L2127.3,1150.8L2138.7,1159.7L2152.9,1165.6L2157.5,1165.6L2160.9,1156.7L2162.0,1144.9L2162.0,1136.8L2164.3,1127.5ZM2179.7,1318.4L2189.9,1319.9L2200.2,1319.9L2199.0,1332.1L2191.6,1340.7L2182.5,1336.0L2179.1,1324.4ZM2339.0,1273.1L2348.6,1280.8L2356.6,1289.9L2357.7,1294.9L2372.0,1296.4L2363.4,1309.5L2360.6,1316.9L2353.2,1325.2L2349.8,1322.2L2350.9,1313.2L2345.2,1307.3L2350.3,1298.5L2347.5,1287.8L2341.8,1278.7ZM2339.0,1316.9L2348.1,1324.4L2341.8,1336.0L2340.7,1342.2L2317.9,1347.8L2332.1,1326.7ZM1445.2,829.0L1442.4,837.6L1441.3,839.8L1427.0,833.4L1428.7,829.7ZM1408.8,806.8L1412.3,812.1L1411.1,821.7L1405.4,823.9L1403.1,811.4ZM1410.0,793.0L1411.1,800.8L1408.3,805.3L1405.4,798.5L1409.4,794.6ZM1490.8,847.5L1506.1,850.3L1503.3,852.4L1490.2,850.3ZM1552.8,847.5L1544.2,854.5L1540.3,853.1L1540.3,850.3L1549.4,848.9ZM1428.2,677.2L1428.2,681.3L1426.5,688.3L1419.6,685.3L1421.4,679.2ZM1416.8,682.3L1417.4,688.3L1412.3,687.3L1412.8,683.3ZM1464.6,658.4L1461.2,667.9L1459.5,662.7ZM757.5,292.0L768.4,290.9L775.0,300.7L781.5,305.1L788.1,309.5L792.5,333.5L783.7,335.7L770.6,320.4L761.9,318.2L759.7,305.1ZM797.9,307.3L805.6,308.4L816.5,316.1L816.5,330.3L805.6,333.5L797.9,318.2ZM785.9,265.7L794.7,269.0L794.7,277.8L787.0,274.5ZM713.7,331.4L731.2,327.0L733.4,335.7L729.0,341.2L721.4,346.7L713.7,340.1ZM712.6,318.2L722.5,309.5L733.4,310.6L733.4,320.4L713.7,321.5ZM753.1,335.7L757.5,336.8L762.9,351.0L757.5,353.2ZM810.0,335.7L827.5,335.7L826.4,343.4L812.2,344.5ZM838.4,339.0L845.0,341.2L847.2,348.9L840.6,350.0ZM810.0,392.6L818.7,390.4L823.1,397.0L824.2,410.1L816.5,411.2L807.8,401.4Z" fill="#f9fafb" stroke="#e4e6e7" stroke-width="2.6" stroke-linejoin="round"/>
<path d="M1522.0,806.8L1515.8,800.8L1513.5,796.9L1515.8,791.5L1519.8,783.6L1525.5,775.6L1531.7,765.0L1537.4,768.3L1545.9,769.9L1542.0,775.6L1547.6,782.0L1557.3,778.0L1560.2,777.2L1564.7,774.8L1571.5,779.6L1582.9,789.1L1593.7,800.8L1592.0,806.8L1584.1,808.3L1563.6,806.1L1555.6,800.8L1535.7,806.8L1524.3,807.6ZM1565.3,774.8L1572.7,769.1L1579.5,759.2L1569.8,763.3L1556.7,766.6L1556.7,773.2ZM1649.5,762.5L1638.1,760.8L1634.1,767.5L1626.7,773.2L1623.9,781.2L1626.7,789.1L1630.7,800.8L1638.1,809.9L1639.8,814.3L1635.3,823.2L1634.7,829.0L1638.1,834.1L1648.3,839.1L1663.1,838.4L1662.6,831.9L1659.1,823.2L1658.0,815.8L1656.9,808.3L1655.7,802.3L1654.6,796.9L1648.3,789.1L1642.7,781.2L1648.3,777.2L1658.0,773.2L1658.6,764.2Z" fill="#d4dadc" stroke="#e4e6e7" stroke-width="2.6"/>
<path d="M1325.2,842.6L1346.2,852.2L1350.6,869.7L1342.7,869.7L1325.2,885.5L1308.6,891.6L1306.0,903.0M1260.5,940.6L1282.4,940.6L1283.2,927.5L1289.4,925.7L1289.4,911.7L1307.7,910.0L1307.7,903.0M1292.9,903.9L1276.2,925.7L1270.1,939.7M1307.7,903.0L1363.7,941.5L1365.5,945.0L1375.1,947.6L1379.5,952.9M1318.2,917.9L1327.0,971.2L1290.2,974.7L1286.7,977.4L1279.7,969.5L1264.0,968.6L1257.9,978.2M1379.5,952.9L1390.0,950.2L1425.0,926.6L1437.2,931.0L1446.9,925.7L1493.2,950.2L1498.5,948.5M1403.1,840.0L1404.9,852.2L1398.7,859.2L1409.2,869.7L1411.0,883.7L1411.0,911.7L1415.4,919.6L1421.5,920.5L1425.0,926.6M1411.0,883.7L1423.2,865.4M1498.5,948.5L1496.7,883.7L1499.3,875.0M1500.2,936.2L1537.0,934.5L1565.0,935.4M1493.2,950.2L1493.2,973.9L1487.1,975.6L1481.0,989.6L1486.2,998.4L1495.0,1013.2L1510.7,1032.5L1519.5,1039.5L1524.7,1037.7L1531.7,1044.7M1443.4,931.0L1443.4,938.0L1446.0,945.0L1445.1,964.2L1432.9,981.7L1439.9,990.5L1441.6,1004.5L1446.0,1005.4L1436.4,1008.9L1444.2,1020.2L1439.0,1028.1L1439.9,1032.5L1448.6,1047.3M1379.5,952.9L1378.6,973.9L1357.6,977.4L1353.2,978.2L1332.2,987.0L1323.5,1004.5M1286.7,977.4L1292.9,992.2L1306.0,991.4L1311.2,1005.4L1313.0,1015.0L1307.7,1021.1M1261.4,985.2L1279.7,985.2M1262.2,993.1L1292.0,993.1M1282.4,1013.2L1292.0,1006.2L1298.1,1017.6L1290.2,1023.7M1302.5,1017.6L1306.0,1021.1L1310.4,1029.0L1315.6,1029.9L1313.9,1037.7M1341.0,1001.0L1341.0,1034.2M1356.7,1000.1L1360.2,1015.0L1359.4,1025.5L1362.0,1028.1M1362.0,1001.9L1366.4,1013.2L1366.4,1027.2M1372.5,997.5L1378.6,1002.7L1372.5,1015.0L1372.5,1025.5M1311.2,1005.4L1325.2,1006.2L1334.0,1008.0L1341.0,1001.0L1356.7,1000.1L1370.7,995.7L1376.0,996.6M1356.7,978.2L1370.7,994.9L1379.5,990.5L1381.2,986.1L1390.0,983.5L1397.9,989.6L1432.9,985.2L1439.9,990.5M1404.9,1034.2L1418.0,1024.6L1420.6,1028.1L1432.9,1002.7L1441.6,995.7M1411.9,1039.5L1413.6,1049.1L1447.7,1052.6L1449.5,1046.5L1460.0,1043.8L1461.7,1037.7L1467.0,1033.4L1479.2,1039.5L1509.8,1033.4M1565.0,935.4L1567.6,960.7L1573.7,962.5M1567.6,965.1L1563.2,980.0L1561.5,1001.0L1547.5,1027.2L1556.2,1032.5L1549.2,1041.2M1563.2,980.0L1584.2,980.0L1598.2,994.0L1594.7,1001.0M1598.2,1002.7L1608.7,1013.2L1626.2,1018.5L1612.2,1034.2L1598.2,1039.5L1591.2,1042.1L1586.0,1043.8L1577.2,1043.8L1565.0,1039.5L1556.2,1034.2M1633.2,1002.7L1635.0,1012.4L1626.2,1018.5M1590.3,1043.0L1593.0,1069.2M1531.7,1044.7L1534.3,1042.1L1551.8,1042.1L1555.3,1057.0L1547.5,1069.2M1526.5,1069.2L1551.0,1069.2L1568.5,1079.7L1579.0,1090.2M1461.7,1039.5L1459.1,1064.0L1449.5,1076.2L1447.7,1085.0L1439.9,1092.0L1426.7,1092.0M1531.7,1044.7L1535.2,1051.7L1526.5,1060.5L1520.3,1078.0L1523.0,1092.0L1530.0,1109.5L1531.7,1120.0M1428.5,1097.2L1449.5,1097.2L1458.2,1109.5L1467.0,1109.5L1468.7,1104.2L1481.0,1106.0L1482.7,1120.0M1554.5,890.7L1586.0,871.5L1610.5,889.0L1624.5,892.5L1631.5,890.7M1554.5,868.0L1572.0,880.2L1563.2,887.2L1554.5,890.7M1591.2,840.0L1591.2,855.7L1577.2,862.7L1565.0,869.7M1615.7,840.0L1621.0,852.2L1615.7,861.0L1626.2,868.0L1631.5,885.5M1600.0,962.5L1624.5,966.0L1635.0,955.5L1650.0,952.0M1349.9,789.9L1368.2,793.9L1373.5,797.8M1372.2,726.9L1380.1,730.9L1381.4,735.5L1390.6,734.8L1402.4,744.0L1397.1,754.5L1391.9,763.7M1372.2,726.9L1381.4,721.7L1390.6,723.0M1397.1,703.3L1391.9,720.4L1390.6,734.8M1407.6,691.5L1412.9,702.0M1437.8,698.1L1437.1,705.9L1440.4,712.5L1439.1,715.1L1442.4,724.3M1426.0,732.2L1441.7,725.6L1452.2,731.5L1462.7,738.7M1426.0,732.2L1427.3,738.7L1435.2,746.6L1428.6,754.5L1412.9,757.1L1399.7,754.5M1435.2,746.6L1452.2,745.3L1462.7,738.7L1483.7,740.1L1482.4,749.2M1399.7,754.5L1411.5,759.7L1427.3,759.7L1429.9,765.0L1449.6,765.0L1453.5,751.9M1462.7,691.5L1490.3,694.8L1489.0,713.8L1494.2,728.2L1483.7,740.1M1478.5,673.1L1504.7,674.4L1515.2,677.1L1532.3,683.6L1537.5,703.3L1542.8,704.6L1536.2,712.5L1533.6,713.8M1491.6,719.1L1512.6,717.7L1529.7,723.0L1533.6,715.1L1549.3,715.1L1555.9,726.9L1557.2,731.5L1567.7,729.6M1567.7,729.6L1584.8,740.1L1583.5,754.5L1555.9,768.9M1483.7,750.6L1500.8,753.2L1510.0,749.2L1519.2,750.6L1525.7,765.0L1517.8,775.5M1453.5,751.9L1461.4,753.8L1474.5,747.9L1482.4,750.6M1470.6,767.6L1486.4,780.7L1502.1,787.3L1517.8,784.7M1449.6,765.0L1468.0,770.2L1474.5,765.0L1483.7,755.8M1487.7,783.4L1487.7,803.0L1503.4,804.4L1516.5,800.4M1474.5,799.1L1485.0,797.8M1466.7,805.7L1473.2,810.9L1473.2,814.9M1515.2,660.0L1516.5,674.4L1532.3,683.6M1478.5,673.1L1481.1,691.5L1462.7,691.5M1559.8,838.5L1600.0,834.5M1623.0,740.7L1626.9,729.9L1634.8,734.8L1632.8,728.9L1644.6,718.1L1646.6,721.0L1660.4,722.0L1668.3,727.9L1674.2,729.9L1688.0,724.0L1695.8,729.9L1705.7,726.9L1706.7,722.0L1699.8,716.1L1702.7,707.2L1710.6,707.2L1702.7,698.4L1721.4,695.4L1731.3,689.5L1744.1,689.5L1749.0,683.6L1758.8,683.6L1761.8,696.4L1768.7,696.4L1772.6,701.3L1780.5,701.3L1792.3,694.4L1812.0,726.9L1816.9,723.0L1823.8,727.9L1831.7,726.9L1841.5,736.8L1849.4,735.8L1853.3,740.7M1853.3,740.7L1843.5,750.6L1844.4,756.5L1839.5,761.4L1828.7,757.4L1825.7,772.2L1812.0,778.1L1815.9,780.1L1817.9,789.9L1812.0,797.8M1853.3,740.7L1878.9,727.9L1890.7,728.9L1900.6,734.8L1912.4,734.8L1916.3,728.9L1912.4,723.0L1921.2,716.1L1936.0,723.0L1943.9,733.8L1959.6,729.9L1970.4,733.8L1973.4,739.7L1989.1,739.7L2006.9,731.9M1855.3,743.7L1871.0,753.5L1873.0,775.2L1884.8,776.1L1898.6,782.0L1906.5,793.9L1934.0,795.8L1938.0,799.8L1953.7,803.7L1965.5,795.8L1979.3,795.8L1991.1,786.0L1993.1,778.1L2000.9,776.1L2010.0,776.1M1623.0,740.7L1625.0,750.6L1634.8,762.4L1658.4,760.4M1674.2,805.7L1674.2,776.1L1690.9,772.2L1701.7,778.1L1710.6,787.0L1727.3,786.0L1733.2,793.9L1778.5,790.9L1794.3,791.9L1812.0,797.8L1794.3,809.6M1674.2,805.7L1680.1,805.7L1691.9,794.8L1698.8,795.8L1699.8,805.7L1709.6,806.7L1720.4,821.4L1735.2,829.3L1737.2,832.2M1737.2,832.2L1745.0,821.4L1762.8,817.5L1772.6,821.4L1782.4,827.3L1784.4,833.2M1665.3,833.2L1681.1,828.3L1693.9,833.2L1705.7,843.1L1707.6,849.0L1715.5,849.0L1727.3,838.1L1741.1,835.2L1745.0,837.2L1760.8,826.3L1764.7,837.2M1705.7,843.1L1701.7,862.8L1702.7,874.6L1709.6,876.5L1704.7,886.4M1607.2,821.4L1615.1,841.1L1620.0,849.0L1615.1,858.8L1626.9,868.7L1628.9,880.5M1560.0,841.1L1583.6,839.1L1609.2,835.2M1792.3,847.0L1806.1,854.9L1804.1,870.6L1812.0,878.5L1815.9,882.4L1831.7,886.4L1855.3,900.2L1882.8,900.2L1892.7,889.3L1904.5,890.3L1916.3,900.2L1918.3,910.0L1912.4,921.8L1922.2,931.7L1934.0,935.6M1813.9,886.4L1813.9,894.3L1827.7,902.1L1845.4,906.1L1857.2,908.0M1861.2,908.0L1861.2,915.9L1882.8,915.9L1875.0,931.7M1904.5,894.3L1894.6,908.0L1890.7,921.8L1886.8,933.6M1922.2,931.7L1930.1,947.4L1932.0,959.2L1949.8,961.2L1963.5,971.0M1934.0,935.6L1949.8,931.7L1961.6,931.7L1971.4,939.5L1981.3,935.6L2010.0,931.7M1560.0,876.5L1583.6,880.5L1611.2,888.3L1625.0,886.4M946.0,997.6L939.4,1010.8L946.0,1021.8L954.8,1027.3L965.8,1029.5L972.4,1035.0L972.4,1050.4L974.6,1055.9L983.4,1059.2L994.4,1050.4L990.0,1041.6L1005.4,1036.1L1012.0,1035.0M1012.0,1017.4L1007.6,1030.6L1014.2,1041.6L1016.4,1053.7L1027.3,1055.9M1027.3,1030.6L1031.7,1050.4L1038.3,1050.4M1047.1,1035.0L1048.2,1050.4L1062.5,1039.4M1016.4,1053.7L1027.3,1057.0L1038.3,1052.6L1047.1,1050.4L1064.7,1042.7M959.2,1052.6L959.2,1070.2L957.0,1079.0L941.6,1076.8L928.4,1064.7M897.6,1070.2L910.8,1055.9L928.4,1064.7L932.8,1068.0M899.8,1085.6L906.4,1092.2L915.2,1081.2L928.4,1068.0M957.0,1087.8L943.8,1092.2L937.2,1103.2L939.4,1114.2L952.6,1123.0L961.4,1120.8L965.8,1133.9M974.6,1197.7L968.0,1206.5L968.0,1224.1L963.6,1226.3L954.8,1248.3L957.0,1283.5L950.4,1303.3L946.0,1331.9M1001.0,1193.3L1025.2,1208.7L1023.0,1224.1L1036.1,1226.3L1049.3,1213.1L1047.1,1199.9L1038.3,1193.3L1027.3,1191.1L1025.2,1177.9M1049.3,1215.3L1047.1,1221.9L1031.7,1241.7L1025.2,1268.1M1033.9,1243.9L1053.7,1261.5M1950.0,733.2L1958.5,730.6L1971.0,733.8L1973.0,739.7L1986.7,741.7L1995.3,739.7L2005.1,731.9L2019.6,736.5L2028.7,737.8L2036.0,731.9L2043.2,718.7L2043.2,709.6L2045.1,704.3L2060.2,702.3L2069.4,706.3L2076.6,716.1L2082.5,737.8L2092.4,739.7L2102.9,754.2L2109.4,754.2L2117.3,751.5L2121.3,747.6L2123.2,750.2L2117.3,771.2L2112.7,776.5L2106.2,774.5L2102.9,777.8L2102.2,792.2M2020.2,737.1L2015.0,746.3L2015.0,754.2L2030.7,752.2L2039.2,760.1L2039.2,764.0L2032.7,762.0L2018.9,766.0L2015.6,773.9L2005.1,777.8L1994.6,775.8L1990.7,780.4L1993.3,785.7L1982.8,796.2L1975.6,797.5L1963.1,798.1L1954.6,804.0L1950.0,802.7M2102.2,792.2L2097.0,795.5L2085.2,800.1L2084.5,804.0L2076.6,802.1L2073.4,810.6L2064.2,815.9M2068.8,830.3L2077.3,831.6L2086.5,826.4M1850.0,897.6L1861.2,897.6L1864.6,895.9L1880.4,898.7L1882.6,899.9L1892.7,889.7L1902.9,889.7L1908.5,894.2L1913.0,894.2L1918.6,901.0L1918.6,910.0L1911.3,919.6L1917.5,921.2L1922.0,928.5L1921.4,933.6L1926.5,937.5L1934.4,937.5L1935.5,931.9L1946.7,930.2L1954.6,928.0L1963.6,930.8L1969.2,937.0M1863.5,898.7L1864.6,905.5L1880.4,905.5L1880.4,898.7M1859.0,908.9L1866.9,910.0L1868.0,915.6L1882.6,917.9L1875.9,924.6L1873.6,931.4M1859.0,910.0L1856.7,919.6L1861.2,921.2L1862.4,932.5M1882.6,899.9L1896.1,907.7L1895.0,913.4L1889.4,922.4L1887.1,921.2L1883.7,937.0M1934.4,937.5L1926.5,944.9L1913.0,950.5L1910.7,957.2L1917.5,969.6L1914.1,977.5M1935.5,931.9L1945.6,943.7L1951.2,942.6L1949.0,951.6L1962.5,966.2L1968.1,973.0L1968.1,993.2M1926.5,944.9L1933.2,948.2L1931.0,961.7L1936.6,957.2L1949.0,957.2L1956.9,975.2L1956.9,982.0M1940.0,987.6L1944.5,982.0L1956.9,982.0L1962.5,979.7L1968.1,979.7M1426.2,1098.4L1449.9,1098.4L1457.7,1110.2L1466.9,1110.2L1468.2,1104.9L1480.7,1105.6L1482.7,1128.6L1493.2,1125.9L1499.7,1129.9L1503.7,1132.5L1515.5,1133.8L1526.0,1141.7L1527.3,1136.4L1519.4,1132.5L1519.4,1115.4L1531.2,1110.2L1544.4,1118.1L1552.2,1118.1L1554.9,1129.9L1569.3,1131.8L1574.5,1128.6L1587.7,1124.6M1523.4,1091.8L1531.2,1110.2M1482.7,1137.7L1482.7,1160.1L1493.2,1166.0L1510.2,1167.3L1517.5,1160.1L1522.0,1158.7L1522.7,1154.8L1544.4,1144.3L1544.4,1118.1M1423.6,1164.0L1464.3,1164.0L1466.9,1167.3L1499.7,1166.0M1477.4,1170.6L1477.4,1192.9L1471.5,1194.2L1471.5,1211.2L1474.8,1212.5L1474.8,1221.7L1482.7,1221.7L1487.3,1211.2L1502.4,1215.2L1502.4,1211.2L1522.0,1192.9L1533.9,1192.9L1544.4,1180.4L1544.4,1158.7L1526.0,1154.8M1469.6,1194.2L1468.2,1232.2L1465.6,1234.9L1456.4,1234.9L1453.8,1229.6L1451.2,1233.5M1501.0,1167.3L1505.0,1177.1L1515.5,1185.0L1515.5,1188.9L1522.0,1192.9M1533.9,1192.9L1539.1,1203.4L1539.1,1219.1L1543.0,1220.4M1544.4,1144.3L1552.2,1148.2L1550.9,1156.1L1557.5,1161.4L1561.4,1150.9L1552.2,1140.4L1552.2,1119.4M1510.9,1239.4L1515.5,1248.0L1524.7,1237.5L1520.7,1233.5L1514.2,1235.5L1510.9,1239.4M1533.2,1223.0L1535.2,1215.2L1537.8,1215.2L1539.1,1223.0M656.5,743.9L815.2,743.8L816.3,740.8L825.7,747.3L846.8,752.4L861.6,758.3L875.2,765.0L881.5,769.9L887.7,793.0L883.8,800.8L886.6,803.0L902.5,796.1L906.8,790.7L915.6,788.3L922.4,783.6L931.5,777.2L949.7,777.2L952.6,774.8L958.3,765.8L962.8,757.5L970.8,760.0L970.8,769.9L974.2,775.6M554.4,504.6L554.4,631.8L565.7,635.2L574.3,644.2L585.7,647.6L605.6,667.9L616.9,678.2L613.5,691.2M690.2,868.6L703.9,867.3L724.6,876.7L740.9,876.7L740.9,873.7L750.5,873.7L759.2,881.5L762.6,888.7L769.4,890.7L776.2,886.8L779.6,887.4L784.8,893.9L790.5,901.7L793.3,908.7L803.8,911.5M831.8,980.9L832.0,976.7L834.7,971.9L842.0,971.9L838.8,964.8L838.9,961.4L849.3,961.4L854.2,957.4M849.3,961.4L849.1,972.9L854.7,974.0M849.1,972.9L848.2,981.7L843.9,985.8M861.6,972.9L853.0,984.1L857.6,988.1M883.2,978.2L867.3,984.1L861.6,989.9M880.3,1001.5L869.0,1001.0M886.6,1009.6L884.9,1018.8" fill="none" stroke="#e4e6e7" stroke-width="2.6" stroke-linejoin="round" stroke-linecap="round"/><path d="M1308.8,803.3L1317.9,802.0L1319.2,804.6L1314.0,811.2L1315.3,822.9L1312.7,833.4L1308.8,836.0L1307.5,822.9L1304.9,820.3L1307.5,812.5Z" fill="#55a04f" stroke="#55a04f" stroke-width="1"/><path d="M1705.9,886.9L1733.4,885.6L1738.6,875.2L1751.7,870.0L1759.5,856.9L1766.1,842.5L1775.2,839.9L1784.4,839.9L1792.2,846.4L1789.6,853.0L1777.8,854.3L1775.2,867.3L1783.1,869.9L1780.5,880.4L1762.2,898.7L1754.3,901.3L1758.2,919.6L1743.9,922.2L1736.0,911.8L1708.6,914.4L1716.4,906.5L1715.1,898.7Z" fill="#fba514" stroke="#fba514" stroke-width="1"/><path d="M967.6,1137.0L999.0,1137.0L1002.5,1141.8L1010.1,1143.2L1010.8,1147.4L1012.6,1163.8L1026.6,1170.8L1023.1,1177.8L1002.2,1181.3L998.7,1191.7L974.3,1193.5L967.3,1181.3L967.3,1153.4Z" fill="#55a04f" stroke="#55a04f" stroke-width="1"/>
</g>
<text x="755.7" y="749.4" font-family="Liberation Sans" font-size="29.1" font-weight="bold" font-style="normal" letter-spacing="0.16" fill="#6b7f8e" stroke="#fafbfc" stroke-width="4" stroke-linejoin="round" paint-order="stroke">NORTH</text><text x="739.0" y="783.4" font-family="Liberation Sans" font-size="28.5" font-weight="bold" font-style="normal" letter-spacing="0.93" fill="#6b7f8e" stroke="#fafbfc" stroke-width="4" stroke-linejoin="round" paint-order="stroke">AMERICA</text><text x="957.9" y="1135.9" font-family="Liberation Sans" font-size="28.3" font-weight="bold" font-style="normal" letter-spacing="0.30" fill="#6b7f8e" stroke="#fafbfc" stroke-width="4" stroke-linejoin="round" paint-order="stroke">SOUTH</text><text x="939.5" y="1169.7" font-family="Liberation Sans" font-size="27.3" font-weight="bold" font-style="normal" letter-spacing="1.85" fill="#6b7f8e" stroke="#fafbfc" stroke-width="4" stroke-linejoin="round" paint-order="stroke">AMERICA</text><text x="1352.2" y="787.6" font-family="Liberation Sans" font-size="28.5" font-weight="bold" font-style="normal" letter-spacing="0.24" fill="#6b7f8e" stroke="#fafbfc" stroke-width="4" stroke-linejoin="round" paint-order="stroke">EUROPE</text><text x="1723.3" y="815.0" font-family="Liberation Sans" font-size="26.5" font-weight="bold" font-style="normal" letter-spacing="2.00" fill="#6b7f8e" stroke="#fafbfc" stroke-width="4" stroke-linejoin="round" paint-order="stroke">ASIA</text><text x="1459.3" y="1021.5" font-family="Liberation Sans" font-size="26.6" font-weight="bold" font-style="normal" letter-spacing="1.87" fill="#6b7f8e" stroke="#fafbfc" stroke-width="4" stroke-linejoin="round" paint-order="stroke">AFRICA</text><g clip-path="url(#wc)"><text x="2276.0" y="1198.1" font-family="Liberation Sans" font-size="27.9" font-weight="bold" font-style="normal" letter-spacing="1.30" fill="#6b7f8e" stroke="#fafbfc" stroke-width="4" stroke-linejoin="round" paint-order="stroke">OCEAN</text></g><text x="1072.2" y="980.0" font-family="Liberation Sans" font-size="27.5" font-weight="normal" font-style="italic" letter-spacing="5.56" fill="#a8b5bf">Atlantic</text><text x="1088.3" y="1009.9" font-family="Liberation Sans" font-size="27.5" font-weight="normal" font-style="italic" letter-spacing="4.59" fill="#a8b5bf">Ocean</text><text x="614.1" y="1062.7" font-family="Liberation Sans" font-size="27.5" font-weight="normal" font-style="italic" letter-spacing="4.51" fill="#a8b5bf">Pacific</text><text x="619.3" y="1092.3" font-family="Liberation Sans" font-size="27.5" font-weight="normal" font-style="italic" letter-spacing="4.62" fill="#a8b5bf">Ocean</text><text x="1703.7" y="1116.7" font-family="Liberation Sans" font-size="27.5" font-weight="normal" font-style="italic" letter-spacing="5.39" fill="#a8b5bf">Indian</text><text x="1706.0" y="1147.5" font-family="Liberation Sans" font-size="27.5" font-weight="normal" font-style="italic" letter-spacing="4.62" fill="#a8b5bf">Ocean</text>
</svg>
</div>
<!-- zoom control -->
<div class="abs" style="left:39px;top:242px;width:88px;height:160px;border-radius:10px;background:#a0a6a6;border:4px solid #a9aeae"></div>
<div class="abs" style="left:53px;top:256px;width:60px;height:61px;border-radius:8px;background:#fff;border-bottom:1px solid #ccc"></div>
<div class="abs" style="left:53px;top:328px;width:60px;height:60px;border-radius:8px;background:#f4f4f4"></div>
<div class="abs" style="left:74px;top:283px;width:18px;height:5px;background:#000"></div>
<div class="abs" style="left:80.5px;top:277px;width:5px;height:18px;background:#000"></div>
<div class="abs" style="left:74px;top:355px;width:18px;height:6px;background:#000"></div>
<!-- attribution -->
<div class="abs" style="left:2260px;top:1299px;width:559px;height:33px;background:rgba(255,255,255,0.8)"></div>
<div class="abs" style="left:2270px;top:1308px;width:24px;height:8px;background:#4c7be1"></div>
<div class="abs" style="left:2270px;top:1316px;width:24px;height:8px;background:#ffd500"></div>
<div class="abs" style="left:2299px;top:1306.5px;font-size:22.3px;line-height:1;color:#333;white-space:nowrap"><span style="color:#0078a8">Leaflet</span> | © <span style="color:#0078a8">OpenStreetMap</span> contributors, © <span style="color:#0078a8">CartoDB</span></div>
<!-- legend -->
<div class="leg" style="left:607px;background:#e05243"></div>
<div class="legt" style="left:646px;top:1353px">Apdex (SLA) below 0.70</div>
<div class="leg" style="left:1178px;background:#fca311"></div>
<div class="legt" style="left:1217px;top:1353px">Apdex (SLA) between 0.70 and 0.90</div>
<div class="leg" style="left:1900px;background:#53a14e"></div>
<div class="legt" style="left:1939px;top:1353px">Apdex (SLA) above 0.90</div>

<!-- table card -->
<div class="card" style="top:1434px;height:524px"></div>
<div class="title" style="left:38.5px;top:1454.6px">BY CUSTOM LOCATION</div>
<div class="help" style="left:350.8px;top:1458px">?</div>
<div class="abs" style="left:19px;top:1532px;width:2800px;height:68px;background:#e1e6ea;border-top:2px solid #cfd4d8;border-bottom:2px solid #cfd4d8"></div>
<div class="abs" style="left:19px;top:1600px;width:2800px;height:64px;background:#fff"></div>
<div class="abs" style="left:909px;top:1600px;width:1182px;height:64px;background:#55a04f"></div>
<div class="abs" style="left:19px;top:1664px;width:2800px;height:2px;background:#d3d8dc"></div>
<div class="abs" style="left:909px;top:1664px;width:1182px;height:2px;background:#dcdbe4"></div>
<div class="abs" style="left:19px;top:1666px;width:2800px;height:64px;background:#f8f9fb"></div>
<div class="abs" style="left:909px;top:1666px;width:1182px;height:64px;background:#55a04f"></div>
<div class="abs" style="left:19px;top:1730px;width:2800px;height:2px;background:#d3d8dc"></div>
<div class="abs" style="left:909px;top:1730px;width:1182px;height:2px;background:#dcdbe4"></div>
<div class="abs" style="left:19px;top:1732px;width:2800px;height:64px;background:#fff"></div>
<div class="abs" style="left:909px;top:1732px;width:1182px;height:64px;background:#55a04f"></div>
<div class="abs" style="left:909px;top:1732px;width:312px;height:64px;background:#fba514"></div>
<div class="abs" style="left:19px;top:1796px;width:2800px;height:2px;background:#d3d8dc"></div>
<div class="abs" style="left:909px;top:1796px;width:1182px;height:2px;background:#dcdbe4"></div>
<div class="abs" style="left:19px;top:1798px;width:2800px;height:64px;background:#f8f9fb"></div>
<div class="abs" style="left:909px;top:1798px;width:1182px;height:64px;background:#55a04f"></div>
<div class="abs" style="left:19px;top:1862px;width:2800px;height:2px;background:#d3d8dc"></div>
<div class="abs" style="left:909px;top:1862px;width:1182px;height:2px;background:#dcdbe4"></div>
<div class="abs" style="left:19px;top:1864px;width:2800px;height:64px;background:#fff"></div>
<div class="abs" style="left:909px;top:1864px;width:1182px;height:64px;background:#55a04f"></div>
<div class="abs" style="left:19px;top:1928px;width:2800px;height:2px;background:#d3d8dc"></div>
<div class="abs" style="left:909px;top:1928px;width:1182px;height:2px;background:#dcdbe4"></div>
<div class="abs" style="left:19px;top:1930px;width:2800px;height:4px;background:linear-gradient(#e6e9ec,#fff)"></div>
<div class="th" style="left:42.6px;top:1553.9px">Custom Location</div>
<svg class="abs" style="left:250.2px;top:1556px" width="14" height="18" viewBox="0 0 14 18"><path d="M0,7.1L7,0L14,7.1Z M0,11.1L14,11.1L7,18Z" fill="#7e8a96"/></svg>
<div class="th" style="left:431.5px;top:1553.9px">Country</div>
<svg class="abs" style="left:535.1px;top:1556px" width="14" height="18" viewBox="0 0 14 18"><path d="M0,7.1L7,0L14,7.1Z M0,11.1L14,11.1L7,18Z" fill="#7e8a96"/></svg>
<div class="th" style="left:751.4px;top:1553.9px">Requests</div>
<svg class="abs" style="left:871.0px;top:1556px" width="14" height="18" viewBox="0 0 14 18"><path d="M0,7.1L7,0L14,7.1Z M0,11.1L14,11.1L7,18Z" fill="#7e8a96"/></svg>
<div class="th" style="left:1027.4px;top:1553.9px">Apdex (SLA)</div>
<svg class="abs" style="left:1183.0px;top:1556px" width="14" height="18" viewBox="0 0 14 18"><path d="M0,7.1L7,0L14,7.1Z M0,11.1L14,11.1L7,18Z" fill="#7e8a96"/></svg>
<div class="th" style="left:1370.0px;top:1553.9px">Time To First Byte</div>
<svg class="abs" style="left:1591.0px;top:1556px" width="14" height="18" viewBox="0 0 14 18"><path d="M0,7.1L7,0L14,7.1Z M0,11.1L14,11.1L7,18Z" fill="#7e8a96"/></svg>
<div class="th" style="left:1797.0px;top:1553.9px">First Contentful Paint</div>
<svg class="abs" style="left:2052.6px;top:1556px" width="14" height="18" viewBox="0 0 14 18"><path d="M0,7.1L7,0L14,7.1Z M0,11.1L14,11.1L7,18Z" fill="#7e8a96"/></svg>
<div class="th" style="left:2229.0px;top:1553.9px">Response Time</div>
<svg class="abs" style="left:2418.0px;top:1556px" width="14" height="18" viewBox="0 0 14 18"><path d="M0,7.1L7,0L14,7.1Z M0,11.1L14,11.1L7,18Z" fill="#7e8a96"/></svg>
<div class="th" style="left:2592.4px;top:1553.9px">Total Wait Time</div>
<svg class="abs" style="left:2781.3px;top:1556px" width="14" height="18" viewBox="0 0 14 18"><path d="M0,7.1L7,0L14,7.1Z M0,11.1L14,11.1L7,18Z" fill="#7e8a96"/></svg>
<div class="td" style="left:42px;top:1619.6px">Custom Location 1</div>
<div class="td" style="left:431px;top:1619.6px">Country 1</div>
<div class="td" style="right:1949.5px;top:1619.6px;text-align:right">321</div>
<div class="tdw" style="right:1638.5px;top:1619.6px;text-align:right">0.86</div>
<div class="tdw" style="right:1229.5px;top:1619.6px;text-align:right">633 ms</div>
<div class="tdw" style="right:767.5px;top:1619.6px;text-align:right">793 ms</div>
<div class="td" style="right:402.8px;top:1619.6px;text-align:right">2.2 sec</div>
<div class="td" style="right:39.5px;top:1619.6px;text-align:right">0.39 hours</div>
<div class="td" style="left:42px;top:1685.6px">Custom Location 2</div>
<div class="td" style="left:431px;top:1685.6px">Country 2</div>
<div class="td" style="right:1949.5px;top:1685.6px;text-align:right">120</div>
<div class="tdw" style="right:1638.5px;top:1685.6px;text-align:right">0.95</div>
<div class="tdw" style="right:1229.5px;top:1685.6px;text-align:right">312 ms</div>
<div class="tdw" style="right:767.5px;top:1685.6px;text-align:right">409 ms</div>
<div class="td" style="right:402.8px;top:1685.6px;text-align:right">0.8 sec</div>
<div class="td" style="right:39.5px;top:1685.6px;text-align:right">0.07 hours</div>
<div class="td" style="left:42px;top:1751.6px">Custom Location 3</div>
<div class="td" style="left:431px;top:1751.6px">Country 3</div>
<div class="td" style="right:1949.5px;top:1751.6px;text-align:right">129</div>
<div class="tdw" style="right:1638.5px;top:1751.6px;text-align:right">0.83</div>
<div class="tdw" style="right:1229.5px;top:1751.6px;text-align:right">594 ms</div>
<div class="tdw" style="right:767.5px;top:1751.6px;text-align:right">865 ms</div>
<div class="td" style="right:402.8px;top:1751.6px;text-align:right">1.3 sec</div>
<div class="td" style="right:39.5px;top:1751.6px;text-align:right">0.25 hours</div>
<div class="td" style="left:42px;top:1817.6px">Custom Location 4</div>
<div class="td" style="left:431px;top:1817.6px">Country 4</div>
<div class="td" style="right:1949.5px;top:1817.6px;text-align:right">236</div>
<div class="tdw" style="right:1638.5px;top:1817.6px;text-align:right">0.97</div>
<div class="tdw" style="right:1229.5px;top:1817.6px;text-align:right">673 ms</div>
<div class="tdw" style="right:767.5px;top:1817.6px;text-align:right">880 ms</div>
<div class="td" style="right:402.8px;top:1817.6px;text-align:right">0.6 sec</div>
<div class="td" style="right:39.5px;top:1817.6px;text-align:right">0.11 hours</div>
<div class="td" style="left:42px;top:1883.6px">Custom Location 5</div>
<div class="td" style="left:431px;top:1883.6px">Country 5</div>
<div class="td" style="right:1949.5px;top:1883.6px;text-align:right">126</div>
<div class="tdw" style="right:1638.5px;top:1883.6px;text-align:right">0.86</div>
<div class="tdw" style="right:1229.5px;top:1883.6px;text-align:right">567 ms</div>
<div class="tdw" style="right:767.5px;top:1883.6px;text-align:right">650 ms</div>
<div class="td" style="right:402.8px;top:1883.6px;text-align:right">1.9 sec</div>
<div class="td" style="right:39.5px;top:1883.6px;text-align:right">0.21 hours</div>
</body></html>
